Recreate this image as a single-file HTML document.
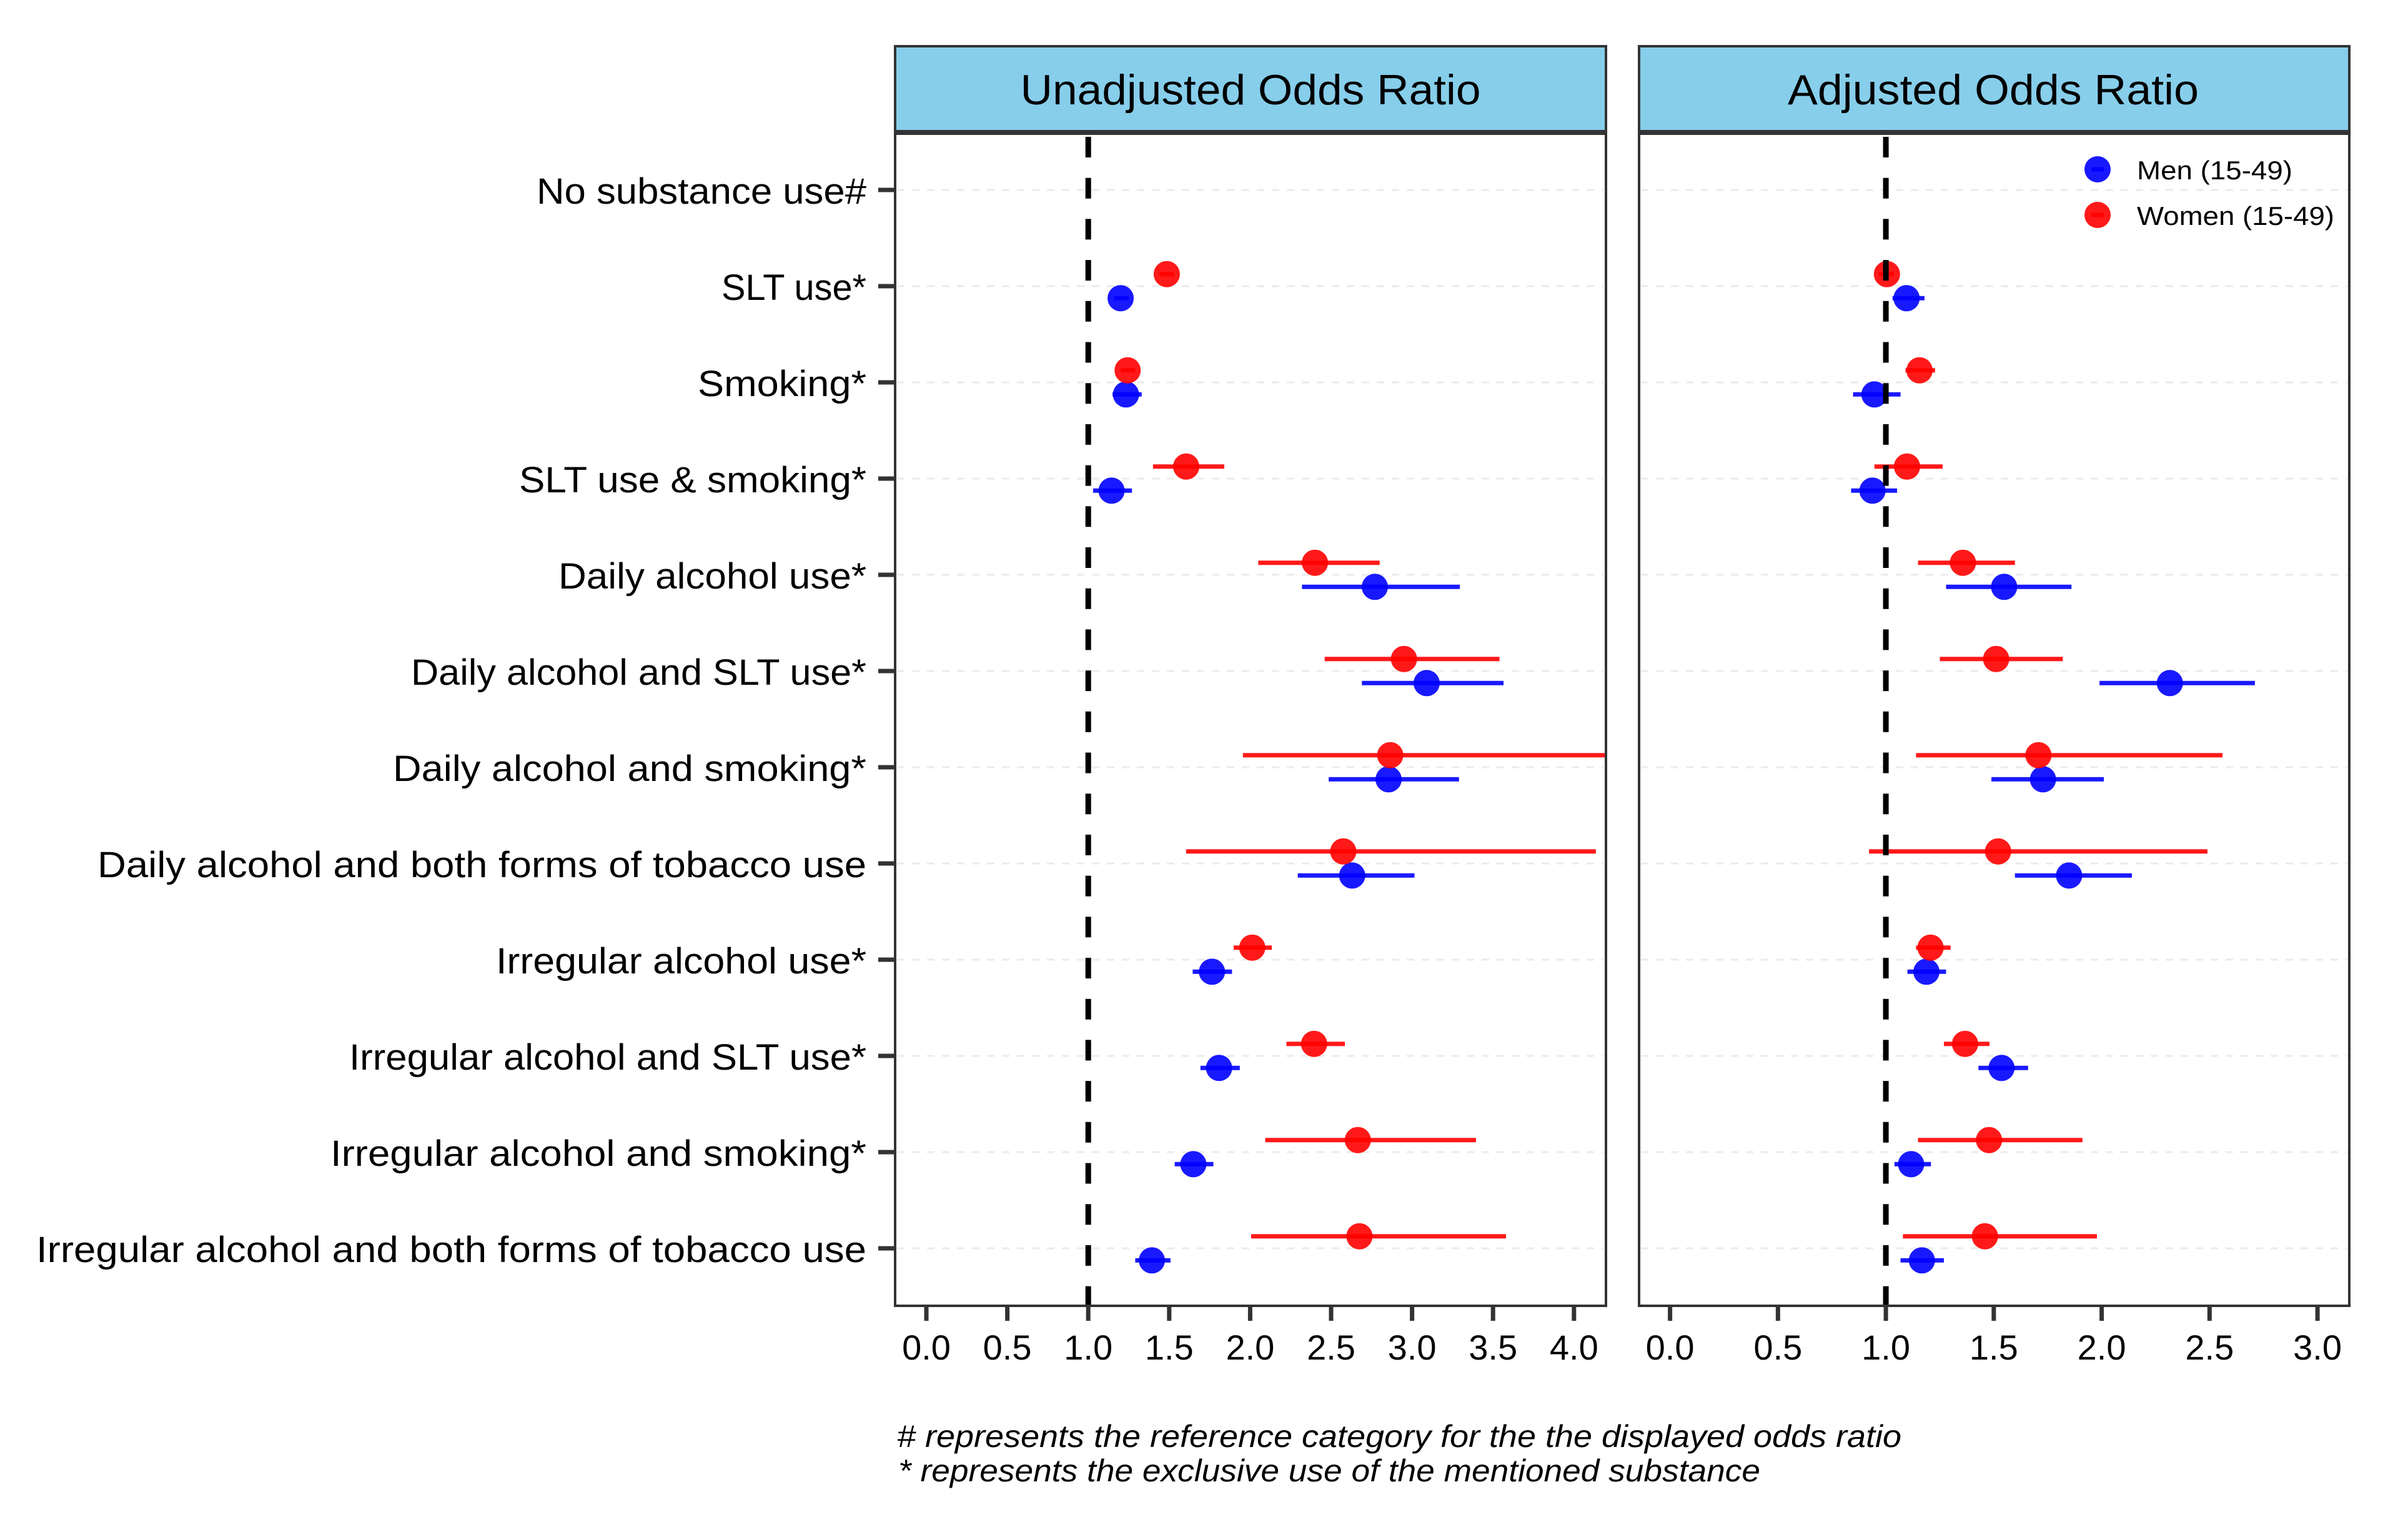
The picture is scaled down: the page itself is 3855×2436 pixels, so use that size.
<!DOCTYPE html>
<html lang="en">
<head>
<meta charset="utf-8">
<title>Unadjusted and Adjusted Odds Ratios by Substance Use</title>
<style>
  html, body { margin: 0; padding: 0; background: #fff; width: 3855px; height: 2436px; overflow: hidden; }
  svg { display: block; font-family: "Liberation Sans", sans-serif; }
  text { fill: #000; }
</style>
</head>
<body>
<svg id="chart" xmlns="http://www.w3.org/2000/svg" width="3855" height="2436" viewBox="0 0 3855 2436">
  <defs>
    <clipPath id="clip-unadjusted"><rect x="1433" y="212" width="1138" height="1878"/></clipPath>
    <clipPath id="clip-adjusted"><rect x="2624" y="212" width="1137" height="1878"/></clipPath>
  </defs>
  <rect width="3855" height="2436" fill="#fff"/>

  <g>
    <rect x="1433" y="74" width="1138" height="138" fill="#87ceeb" stroke="#333" stroke-width="4"/>
    <text x="2002" y="167" font-size="68" text-anchor="middle" textLength="737" lengthAdjust="spacingAndGlyphs">Unadjusted Odds Ratio</text>
  </g>
  <g>
    <rect x="2624" y="74" width="1137" height="138" fill="#87ceeb" stroke="#333" stroke-width="4"/>
    <text x="3191" y="167" font-size="68" text-anchor="middle" textLength="658" lengthAdjust="spacingAndGlyphs">Adjusted Odds Ratio</text>
  </g>

  <g font-size="58" text-anchor="end">
    <text x="1387" y="326" textLength="528" lengthAdjust="spacingAndGlyphs">No substance use#</text>
    <text x="1387" y="480" textLength="232" lengthAdjust="spacingAndGlyphs">SLT use*</text>
    <text x="1387" y="634" textLength="270" lengthAdjust="spacingAndGlyphs">Smoking*</text>
    <text x="1387" y="788" textLength="556" lengthAdjust="spacingAndGlyphs">SLT use &amp; smoking*</text>
    <text x="1387" y="942" textLength="493" lengthAdjust="spacingAndGlyphs">Daily alcohol use*</text>
    <text x="1387" y="1096" textLength="729" lengthAdjust="spacingAndGlyphs">Daily alcohol and SLT use*</text>
    <text x="1387" y="1250" textLength="758" lengthAdjust="spacingAndGlyphs">Daily alcohol and smoking*</text>
    <text x="1387" y="1404" textLength="1231" lengthAdjust="spacingAndGlyphs">Daily alcohol and both forms of tobacco use</text>
    <text x="1387" y="1558" textLength="593" lengthAdjust="spacingAndGlyphs">Irregular alcohol use*</text>
    <text x="1387" y="1712" textLength="828" lengthAdjust="spacingAndGlyphs">Irregular alcohol and SLT use*</text>
    <text x="1387" y="1866" textLength="858" lengthAdjust="spacingAndGlyphs">Irregular alcohol and smoking*</text>
    <text x="1387" y="2020" textLength="1329" lengthAdjust="spacingAndGlyphs">Irregular alcohol and both forms of tobacco use</text>
  </g>

  <g id="y-axis"></g>
  <g id="panel-unadjusted"></g>
  <g id="panel-adjusted"></g>

  <g>
    <g>
      <circle cx="3358" cy="271" r="21" fill="#0000ff" fill-opacity="0.9"/>
      <line x1="3348" x2="3368" y1="271" y2="271" stroke="#0000ff" stroke-opacity="0.9" stroke-width="7"/>
      <text x="3421" y="287" font-size="42" textLength="249" lengthAdjust="spacingAndGlyphs">Men (15-49)</text>
    </g>
    <g>
      <circle cx="3358" cy="344" r="21" fill="#ff0000" fill-opacity="0.9"/>
      <line x1="3348" x2="3368" y1="344" y2="344" stroke="#ff0000" stroke-opacity="0.9" stroke-width="7"/>
      <text x="3421" y="360" font-size="42" textLength="316" lengthAdjust="spacingAndGlyphs">Women (15-49)</text>
    </g>
  </g>

  <g>
    <text x="1436" y="2316" font-size="50" font-style="italic" textLength="1608" lengthAdjust="spacingAndGlyphs"># represents the reference category for the the displayed odds ratio</text>
    <text x="1438" y="2371" font-size="50" font-style="italic" textLength="1380" lengthAdjust="spacingAndGlyphs">* represents the exclusive use of the mentioned substance</text>
  </g>
</svg>

<script>
// ---- data (null = reference category, no estimate drawn) ----
const categories = [
  "No substance use#", "SLT use*", "Smoking*", "SLT use & smoking*",
  "Daily alcohol use*", "Daily alcohol and SLT use*", "Daily alcohol and smoking*",
  "Daily alcohol and both forms of tobacco use", "Irregular alcohol use*",
  "Irregular alcohol and SLT use*", "Irregular alcohol and smoking*",
  "Irregular alcohol and both forms of tobacco use"
];

const unadjustedTicks = ["0.0", "0.5", "1.0", "1.5", "2.0", "2.5", "3.0", "3.5", "4.0"];
const adjustedTicks = ["0.0", "0.5", "1.0", "1.5", "2.0", "2.5", "3.0"];

const unadjustedMenOR = [null, 1.20, 1.233, 1.144, 2.77, 3.09, 2.855, 2.63, 1.764, 1.808, 1.649, 1.393];
const unadjustedMenLow = [null, 1.16, 1.15, 1.03, 2.32, 2.69, 2.485, 2.294, 1.645, 1.693, 1.534, 1.29];
const unadjustedMenHigh = [null, 1.25, 1.33, 1.27, 3.295, 3.565, 3.29, 3.015, 1.888, 1.936, 1.773, 1.508];

const unadjustedWomenOR = [null, 1.485, 1.243, 1.605, 2.40, 2.95, 2.865, 2.575, 2.013, 2.395, 2.665, 2.675];
const unadjustedWomenLow = [null, 1.44, 1.20, 1.40, 2.05, 2.46, 1.955, 1.604, 1.898, 2.224, 2.093, 2.006];
const unadjustedWomenHigh = [null, 1.53, 1.29, 1.84, 2.80, 3.54, 4.30, 4.135, 2.134, 2.585, 3.395, 3.58];

const adjustedMenOR = [null, 1.096, 0.947, 0.938, 1.548, 2.316, 1.728, 1.849, 1.188, 1.536, 1.117, 1.167];
const adjustedMenLow = [null, 1.031, 0.848, 0.839, 1.279, 1.99, 1.489, 1.598, 1.10, 1.429, 1.04, 1.068];
const adjustedMenHigh = [null, 1.179, 1.068, 1.052, 1.86, 2.71, 2.01, 2.14, 1.279, 1.659, 1.209, 1.269];

const adjustedWomenOR = [null, 1.005, 1.156, 1.098, 1.357, 1.511, 1.707, 1.52, 1.207, 1.367, 1.478, 1.459];
const adjustedWomenLow = [null, 0.968, 1.091, 0.947, 1.149, 1.25, 1.14, 0.922, 1.14, 1.269, 1.149, 1.079];
const adjustedWomenHigh = [null, 1.038, 1.228, 1.263, 1.598, 1.82, 2.56, 2.49, 1.30, 1.48, 1.911, 1.978];

const referenceOR = 1.0;

// ---- axis functions ----
const NS = "http://www.w3.org/2000/svg";
function yScale(index) { return 304 + index * 154; }
function xUnadjusted(v) { return 1483 + v * 259.2; }
function xAdjusted(v) { return 2673.6 + v * 345.5; }

function make(tag, attrs, parent) {
  const el = document.createElementNS(NS, tag);
  for (const k in attrs) el.setAttribute(k, attrs[k]);
  parent.appendChild(el);
  return el;
}

const DODGE = 19.3;

function drawSeries(group, xFn, orVals, lowVals, highVals, color, offset, slug) {
  orVals.forEach(function (value, i) {
    if (value === null) return;
    const y = yScale(i) + offset;
    const bar = make("line", { x1: xFn(lowVals[i]), x2: xFn(highVals[i]), y1: y, y2: y, stroke: color, "stroke-width": 7, "stroke-opacity": 0.9 }, group);
    
    
    const dot = make("circle", { cx: xFn(value), cy: y, r: 21, fill: color, "fill-opacity": 0.9 }, group);
    
    
  });
}

function drawPanel(root, left, right, clipId, xFn, ticks, menOR, menLow, menHigh, womenOR, womenLow, womenHigh) {
  categories.forEach(function (c, i) {
    const grid = make("line", { x1: left + 3, x2: right - 3, y1: yScale(i), y2: yScale(i), stroke: "#ebebeb", "stroke-width": 3, "stroke-dasharray": "12 12" }, root);
    
    
  });

  const marks = make("g", { "clip-path": "url(#" + clipId + ")" }, root);
  
  
  drawSeries(marks, xFn, menOR, menLow, menHigh, "#0000ff", DODGE, "men");
  drawSeries(marks, xFn, womenOR, womenLow, womenHigh, "#ff0000", -DODGE, "women");

  const ref = make("line", { x1: xFn(referenceOR), x2: xFn(referenceOR), y1: 219, y2: 2090, stroke: "#000", "stroke-width": 9, "stroke-dasharray": "33 32.7" }, root);
  
  

  const border = make("rect", { x: left, y: 212, width: right - left, height: 1878, fill: "none", stroke: "#333", "stroke-width": 4 }, root);
  
  

  const divider = make("line", { x1: left - 2, x2: right + 2, y1: 212, y2: 212, stroke: "#333", "stroke-width": 8 }, root);
  
  

  ticks.forEach(function (label) {
    const x = xFn(parseFloat(label));
    const tick = make("line", { x1: x, x2: x, y1: 2090, y2: 2114, stroke: "#333", "stroke-width": 7 }, root);
    
    
    const text = make("text", { x: x, y: 2176, "font-size": 56, "text-anchor": "middle" }, root);
    
    
    text.textContent = label;
  });
}

function drawYAxis(root) {
  categories.forEach(function (label, i) {
    const y = yScale(i);
    const tick = make("line", { x1: 1406, x2: 1433, y1: y, y2: y, stroke: "#333", "stroke-width": 7 }, root);
    
    
  });
}

drawYAxis(document.getElementById("y-axis"));
drawPanel(document.getElementById("panel-unadjusted"), 1433, 2571, "clip-unadjusted", xUnadjusted, unadjustedTicks,
  unadjustedMenOR, unadjustedMenLow, unadjustedMenHigh, unadjustedWomenOR, unadjustedWomenLow, unadjustedWomenHigh);
drawPanel(document.getElementById("panel-adjusted"), 2624, 3761, "clip-adjusted", xAdjusted, adjustedTicks,
  adjustedMenOR, adjustedMenLow, adjustedMenHigh, adjustedWomenOR, adjustedWomenLow, adjustedWomenHigh);
</script>
</body>
</html>
